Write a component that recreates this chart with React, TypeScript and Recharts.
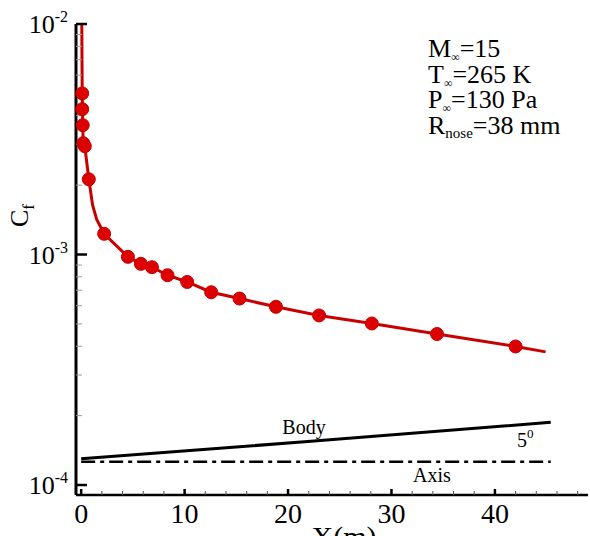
import React from "react";
import { ComposedChart, Line, Scatter, XAxis, YAxis } from "recharts";

// ---- data ----
const markerX = [0.1, 0.1, 0.15, 0.2, 0.35, 0.74, 2.22, 4.52, 5.77, 6.84, 8.35, 10.25, 12.57, 15.31, 18.83, 23.0, 28.1, 34.4, 42.0];
const markerCf = [5.0e-3, 4.27e-3, 3.64e-3, 3.04e-3, 2.95e-3, 2.12e-3, 1.23e-3, 9.77e-4, 9.11e-4, 8.81e-4, 8.13e-4, 7.6e-4, 6.86e-4, 6.44e-4, 5.93e-4, 5.44e-4, 5.02e-4, 4.52e-4, 3.99e-4];

const curveX = [0.06, 0.1, 0.15, 0.2, 0.35, 0.74, 1.1, 1.5, 2.22, 4.52, 5.77, 6.84, 8.35, 10.25, 12.57, 15.31, 18.83, 23.0, 28.1, 34.4, 42.0, 44.9];
const curveCf = [1.0e-2, 5.0e-3, 3.64e-3, 3.04e-3, 2.95e-3, 2.12e-3, 1.64e-3, 1.42e-3, 1.23e-3, 9.77e-4, 9.11e-4, 8.81e-4, 8.13e-4, 7.6e-4, 6.86e-4, 6.44e-4, 5.93e-4, 5.44e-4, 5.02e-4, 4.52e-4, 3.99e-4, 3.78e-4];

const bodyX = [0, 21.6, 45.4];
const bodyCf = [1.3e-4, 1.54e-4, 1.87e-4];

const axisX = [0, 45.4];
const axisCf = [1.26e-4, 1.26e-4];

const xMajorTicks = [0, 10, 20, 30, 40];
const xMinorTicks = [2, 4, 6, 8, 12, 14, 16, 18, 22, 24, 26, 28, 32, 34, 36, 38, 42, 44, 46, 48];
const yMajorTicks = [1e-4, 1e-3, 1e-2];
const yMajorLabels = ["-4", "-3", "-2"];
const yMinorTicks = [2e-4, 3e-4, 4e-4, 5e-4, 6e-4, 7e-4, 8e-4, 9e-4, 2e-3, 3e-3, 4e-3, 5e-3, 6e-3, 7e-3, 8e-3, 9e-3];

const annotationLines = [
  { main: "M", sub: "\u221e", rest: "=15" },
  { main: "T", sub: "\u221e", rest: "=265 K" },
  { main: "P", sub: "\u221e", rest: "=130 Pa" },
  { main: "R", sub: "nose", rest: "=38 mm" },
];

const X_DOMAIN: [number, number] = [-0.5, 49];
const Y_DOMAIN: [number, number] = [9.05e-5, 1e-2];

const zip = (xs: number[], ys: number[]) => xs.map((x, i) => ({ x, y: ys[i] }));
const markers = zip(markerX, markerCf);
const curve = zip(curveX, curveCf);
const body = zip(bodyX, bodyCf);
const axisLineData = zip(axisX, axisCf);

// tick marks placed on the frame through the chart's own scales
const xTickMarks = [
  ...xMajorTicks.map((x) => ({ x, y: Y_DOMAIN[0], major: true })),
  ...xMinorTicks.map((x) => ({ x, y: Y_DOMAIN[0], major: false })),
];
const yTickMarks = [
  ...yMajorTicks.map((y) => ({ x: X_DOMAIN[0], y, major: true })),
  ...yMinorTicks.map((y) => ({ x: X_DOMAIN[0], y, major: false })),
];

const FONT = '"Liberation Serif", "Times New Roman", serif';
const TS = 6;

const renderXLabel = (props: any) => {
  const x = Number(props.x);
  const axisY = Number(props.y) - TS;
  const v = props.payload.value;
  return (
    <text key={`xl-${props.index}`} x={x} y={axisY + 28} textAnchor="middle" fontFamily={FONT} fontSize={28} fill="#000">
      {String(v)}
    </text>
  );
};

const renderYLabel = (props: any) => {
  const axisX0 = Number(props.x) + TS;
  const y = Number(props.y);
  const v = props.payload.value;
  const mi = yMajorTicks.findIndex((t) => Math.abs(t - v) / v < 1e-6);
  return (
    <text key={`yl-${props.index}`} x={axisX0 - 8} y={y + 9} textAnchor="end" fontFamily={FONT} fontSize={26} fill="#000">
      10
      <tspan dy={-11} fontSize={16}>
        {yMajorLabels[mi]}
      </tspan>
    </text>
  );
};

const renderXMark = (p: any) => (
  <line x1={p.cx} x2={p.cx} y1={p.cy} y2={p.cy - (p.payload.major ? 6 : 4)} stroke={p.payload.major ? "#000" : "#555"} strokeWidth={p.payload.major ? 2.5 : 1} />
);
const renderYMark = (p: any) => (
  <line x1={p.cx} x2={p.cx + (p.payload.major ? 11 : 6)} y1={p.cy} y2={p.cy} stroke={p.payload.major ? "#000" : "#999"} strokeWidth={p.payload.major ? 2.5 : 1} />
);

const renderDot = (p: any) => <circle cx={p.cx} cy={p.cy} r={6.5} fill="#dd0000" stroke="#c40000" strokeWidth={1} />;

export default function App() {
  return (
    <div style={{ position: "absolute", left: 0, top: 0, width: 590, height: 536 }}>
      <svg width={590} height={536} style={{ position: "absolute", left: 0, top: 0 }}>
        <g fontFamily={FONT} fill="#000">
          {annotationLines.map((l, i) => (
            <text key={i} x={428} y={57 + i * 25.5} fontSize={26}>
              {l.main}
              <tspan dy={4} fontSize={l.sub === "nose" ? 15 : 12}>
                {l.sub}
              </tspan>
              <tspan dy={-4} fontSize={26}>
                {l.rest}
              </tspan>
            </text>
          ))}
          <text x={304} y={434} textAnchor="middle" fontSize={20}>Body</text>
          <text x={432} y={482} textAnchor="middle" fontSize={20}>Axis</text>
          <text x={517} y={447} fontSize={20}>
            5<tspan dy={-9} fontSize={13}>0</tspan>
          </text>
          <text x={344} y={547} textAnchor="middle" fontSize={30}>X(m)</text>
          <text transform="rotate(-90)" x={-227} y={28} fontSize={26}>
            C<tspan dy={6} fontSize={17}>f</tspan>
          </text>
        </g>
      </svg>
      <div style={{ position: "absolute", left: 0, top: 0 }}>
        <ComposedChart width={590} height={536} margin={{ top: 24, right: 2, bottom: 0, left: 0 }}>
          <XAxis
            xAxisId="b"
            type="number"
            dataKey="x"
            domain={X_DOMAIN}
            ticks={xMajorTicks}
            tick={renderXLabel}
            tickLine={false}
            tickSize={TS}
            tickMargin={0}
            interval={0}
            height={41}
            axisLine={{ stroke: "#000", strokeWidth: 2.5 }}
          />
          <XAxis xAxisId="t" orientation="top" type="number" dataKey="x" domain={X_DOMAIN} height={0} tick={false} tickLine={false} axisLine={{ stroke: "#000", strokeWidth: 2.5 }} />
          <YAxis
            yAxisId="l"
            type="number"
            dataKey="y"
            scale="log"
            domain={Y_DOMAIN}
            ticks={yMajorTicks}
            tick={renderYLabel}
            tickLine={false}
            tickSize={TS}
            tickMargin={0}
            interval={0}
            width={76}
            axisLine={{ stroke: "#000", strokeWidth: 3 }}
          />
          <YAxis yAxisId="r" orientation="right" type="number" scale="log" domain={Y_DOMAIN} width={0} tick={false} tickLine={false} axisLine={{ stroke: "#cfcfcf", strokeWidth: 1.5 }} />
          <Scatter xAxisId="b" yAxisId="l" data={xTickMarks} dataKey="y" shape={renderXMark} isAnimationActive={false} />
          <Scatter xAxisId="b" yAxisId="l" data={yTickMarks} dataKey="y" shape={renderYMark} isAnimationActive={false} />
          <Line xAxisId="b" yAxisId="l" data={body} dataKey="y" type="linear" stroke="#000" strokeWidth={3} dot={false} isAnimationActive={false} />
          <Line xAxisId="b" yAxisId="l" data={axisLineData} dataKey="y" type="linear" stroke="#000" strokeWidth={2.5} strokeDasharray="14 5 4 5" dot={false} isAnimationActive={false} />
          <Line xAxisId="b" yAxisId="l" data={curve} dataKey="y" type="linear" stroke="#c80000" strokeWidth={3} dot={false} isAnimationActive={false} />
          <Scatter xAxisId="b" yAxisId="l" data={markers} dataKey="y" shape={renderDot} isAnimationActive={false} />
        </ComposedChart>
      </div>
    </div>
  );
}
